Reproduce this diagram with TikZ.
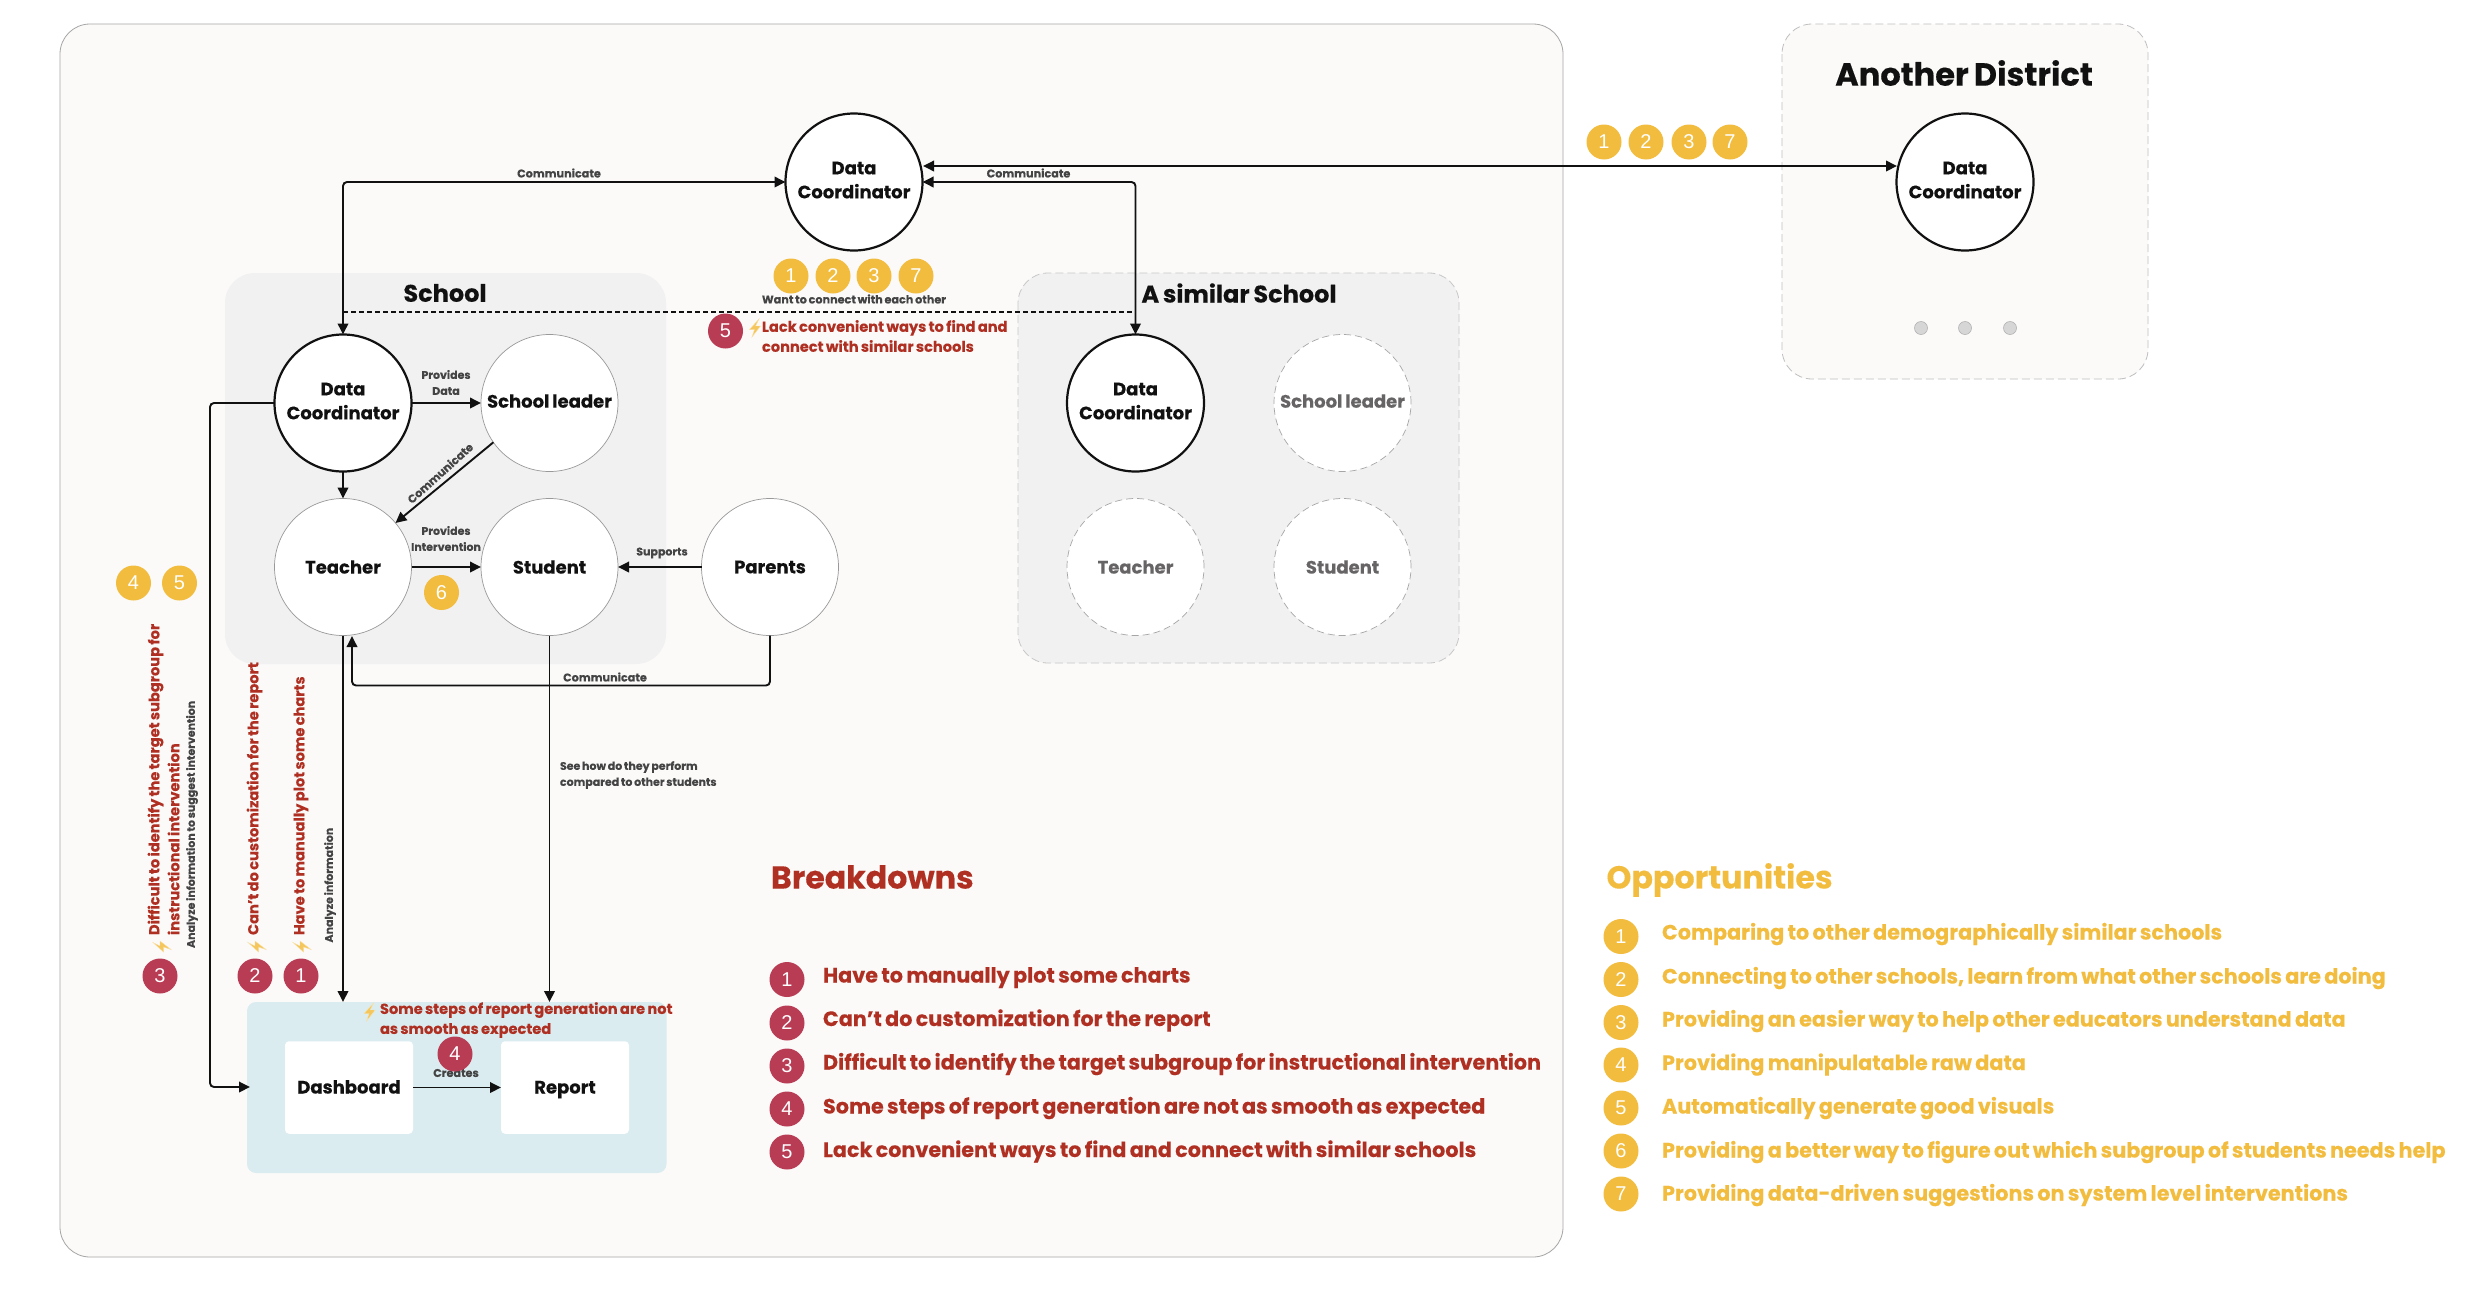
\documentclass[tikz,border=0pt]{standalone}
\usepackage{fontspec}
\setmainfont{Poppins}[WordSpace=0.75,BoldFeatures={FakeBold=0.2}]
\newfontfamily\digitfont{Liberation Sans}
\usetikzlibrary{arrows.meta}
\definecolor{goldc}{HTML}{F2BC3E}
\definecolor{badgered}{HTML}{B93C55}
\definecolor{textred}{HTML}{AF3022}
\definecolor{pagebg}{HTML}{FBFAF9}
\definecolor{panelbg}{HTML}{F1F1F2}
\definecolor{tealbg}{HTML}{DAECEF}
\definecolor{labelc}{HTML}{444444}
\definecolor{fadec}{HTML}{666464}
\definecolor{ink}{HTML}{111111}
\newcommand{\fs}[2]{\fontsize{#1}{#2}\selectfont}
\newcommand{\liftup}{\rule[-4pt]{0pt}{0pt}}
\tikzset{
  every node/.style={inner sep=0pt,outer sep=0pt},
  actor/.style={circle,minimum size=137pt,fill=white,draw=#1,align=center,font=\bfseries\fs{18}{24},text=ink},
  actor/.default={ink},
  mainactor/.style={actor=ink,line width=2.2pt},
  plainactor/.style={actor=black!40,line width=0.7pt},
  ghostactor/.style={actor=black!35,line width=0.7pt,dash pattern=on 7pt off 4pt,text=fadec},
  gbadge/.style={circle,minimum size=35pt,fill=goldc,text=white,font=\digitfont\fs{20}{20}},
  rbadge/.style={circle,minimum size=35pt,fill=badgered,text=white,font=\digitfont\fs{20}{20}},
  flow/.style={line width=1.9pt,draw=ink,rounded corners=4pt,-{Triangle[length=11pt,width=10.5pt]}},
  biflow/.style={line width=1.9pt,draw=ink,rounded corners=4pt,{Triangle[length=11pt,width=10.5pt]}-{Triangle[length=11pt,width=10.5pt]}},
  lab/.style={font=\bfseries\fs{11.2}{17},text=labelc,align=center},
  smalllab/.style={font=\bfseries\fs{11}{16},text=labelc,align=left},
  redlab/.style={font=\bfseries\fs{14.6}{20},text=textred,align=left},
  title/.style={font=\bfseries\fs{24}{30},text=ink},
  rowred/.style={font=\bfseries\fs{20.75}{24},text=textred,anchor=west,text height=15pt,text depth=5pt},
  rowgold/.style={font=\bfseries\fs{20.75}{24},text=goldc,anchor=west,text height=15pt,text depth=5pt},
  whitebox/.style={rectangle,fill=white,rounded corners=4pt,font=\bfseries\fs{18}{22},text=ink,minimum width=128pt,minimum height=92.5pt,text height=13pt,text depth=1pt},
  bolt/.pic={\fill[goldc!85!white,draw=goldc!45!white,line width=0.4pt] (4,-9) -- (-5.5,1.5) -- (-0.5,1.5) -- (-3,9) -- (5.5,-2) -- (0.5,-2) -- cycle;}
}
\begin{document}
\begin{tikzpicture}[x=1pt,y=-1pt]
\useasboundingbox (0,0) rectangle (2468,1288);
\fill[white] (0,0) rectangle (2468,1288);
% panels
\draw[fill=pagebg,draw=black!35,line width=0.8pt,rounded corners=30pt] (60,24) rectangle (1563,1257);
\draw[fill=pagebg,draw=black!25,line width=0.8pt,dash pattern=on 8pt off 4pt,rounded corners=30pt] (1782,24) rectangle (2148,379);
\fill[panelbg,rounded corners=30pt] (225,273) rectangle (666,664);
\draw[fill=panelbg,draw=black!22,line width=0.8pt,dash pattern=on 8pt off 4pt,rounded corners=30pt] (1018,273) rectangle (1459,663);
\fill[tealbg,rounded corners=9pt] (247,1002) rectangle (666.5,1173);
% titles
\node[title] (tSchool) at (445,293) {School};
\node[title] (tSimilar) at (1239,293) {A similar School};
\node[title,font=\bfseries\fs{32}{34}] (tAnother) at (1964,73) {Another District};
% actors
\node[mainactor] (dcTop) at (854,182) {Data\\Coordinator\liftup};
\node[mainactor] (dcAn) at (1965,182) {Data\\Coordinator\liftup};
\node[mainactor] (dcS) at (343,403) {Data\\Coordinator\liftup};
\node[plainactor] (slS) at (549.5,403) {School leader\liftup};
\node[plainactor] (teS) at (343,567) {Teacher};
\node[plainactor] (stS) at (549.5,567) {Student};
\node[plainactor] (paS) at (770,567) {Parents};
\node[mainactor] (dcSim) at (1135.5,403) {Data\\Coordinator\liftup};
\node[ghostactor] (slSim) at (1342.5,403) {School leader\liftup};
\node[ghostactor] (teSim) at (1135.5,567) {Teacher};
\node[ghostactor] (stSim) at (1342.5,567) {Student};
% dots
\node[circle,minimum size=13pt,fill=black!16,draw=black!30,line width=0.6pt] (dot1) at (1921,328) {};
\node[circle,minimum size=13pt,fill=black!16,draw=black!30,line width=0.6pt] (dot2) at (1965,328) {};
\node[circle,minimum size=13pt,fill=black!16,draw=black!30,line width=0.6pt] (dot3) at (2010,328) {};
% output boxes
\node[whitebox] (dash) at (349,1087.5) {Dashboard};
\node[whitebox] (rep) at (565,1087.5) {Report};
\coordinate (tealTop1) at (343,1002);
\coordinate (tealTop2) at (549.5,1002);
\coordinate (tealLeft) at (250,1087);
\coordinate (dcLeftV) at (210,403);
\coordinate (longA) at (923,166);
\coordinate (longB) at (1897,166);
\coordinate (dashA) at (343,312);
\coordinate (dashB) at (1135.5,312);
\coordinate (commBot) at (352,636);
% connectors
\draw[biflow] (dcS.north) |- (dcTop.west);
\draw[biflow] (dcSim.north) |- (dcTop.east);
\draw[biflow] (longA) -- (longB);
\draw[line width=2pt,draw=ink,dash pattern=on 5pt off 3pt] (dashA) -- (dashB);
\draw[flow] (dcS) -- (slS);
\draw[flow] (dcS) -- (teS);
\draw[flow] (slS.215) -- (teS.40);
\draw[flow] (teS) -- (stS);
\draw[flow] (paS) -- (stS);
\draw[flow] (paS.south) |- (352,685.5) -- (commBot);
\draw[flow] (dcS.west) -- (dcLeftV) |- (tealLeft);
\draw[flow] (teS.south) -- (tealTop1);
\draw[flow] (stS.south) -- (tealTop2);
\draw[flow] (dash) -- (rep);
% connector labels
\node[lab] (lC1) at (559,173) {Communicate};
\node[lab] (lC2) at (1028.5,173) {Communicate};
\node[lab] (lWant) at (854,299) {Want to connect with each other};
\node[smalllab,align=center] (lPD) at (446,382.5) {Provides\\Data};
\node[lab,rotate=42] (lC3) at (440,473) {Communicate};
\node[smalllab,align=center] (lPI) at (446,538.5) {Provides\\Intervention};
\node[smalllab] (lSup) at (662,553) {Supports};
\node[lab] (lC4) at (605,677) {Communicate};
\node[smalllab,anchor=west] (lSee) at (560,775) {See how do they perform\\compared to other students};
\node[smalllab,rotate=90,anchor=west] (lAn1) at (330,942.5) {Analyze information};
\node[smalllab,rotate=90,anchor=west] (lAn2) at (192,948) {Analyze information to suggest intervention};
\node[lab] (lCr) at (456,1073) {Creates};
% breakdown notes
\node[redlab,anchor=west] (nLack) at (762,336) {Lack convenient ways to find and\\connect with similar schools};
\node[redlab,anchor=west] (nSteps) at (380,1020) {Some steps of report generation are not\\as smooth as expected};
\node[redlab,rotate=90,anchor=west] (nPlot) at (301,935) {Have to manually plot some charts};
\node[redlab,rotate=90,anchor=west] (nCust) at (254.5,935) {Can't do customization for the report};
\node[redlab,rotate=90,anchor=west] (nDiff) at (163.6,935) {Difficult to identify the target subgroup for\\instructional intervention};
\pic at (755,328) {bolt};
\pic at (369.6,1012) {bolt};
\pic[rotate=90] at (302,946.5) {bolt};
\pic[rotate=90] at (257,946.5) {bolt};
\pic[rotate=90] at (162,946.5) {bolt};
% badges
\node[gbadge] (g1) at (791,276) {1};
\node[gbadge] (g2) at (833,276) {2};
\node[gbadge] (g3) at (874,276) {3};
\node[gbadge] (g7) at (916,276) {7};
\node[gbadge] (h1) at (1604,142) {1};
\node[gbadge] (h2) at (1646,142) {2};
\node[gbadge] (h3) at (1689,142) {3};
\node[gbadge] (h7) at (1730,142) {7};
\node[gbadge] (g4) at (133.5,583) {4};
\node[gbadge] (g5) at (179.5,583) {5};
\node[gbadge] (g6) at (441.5,592.5) {6};
\node[rbadge] (r5) at (725.5,331) {5};
\node[rbadge] (r1) at (301,976) {1};
\node[rbadge] (r2) at (255,976) {2};
\node[rbadge] (r3) at (160,976) {3};
\node[rbadge] (r4) at (455,1054) {4};
% Breakdowns list
\node[font=\bfseries\fs{31.6}{36},text=textred,anchor=west] (hBreak) at (771,877) {Breakdowns};
\node[rbadge] (b1) at (787,979.5) {1};
\node[rbadge] (b2) at (787,1023) {2};
\node[rbadge] (b3) at (787,1066) {3};
\node[rbadge] (b4) at (787,1109) {4};
\node[rbadge] (b5) at (787,1152) {5};
\node[rowred] (bt1) at (823,977.5) {Have to manually plot some charts};
\node[rowred] (bt2) at (823,1021) {Can't do customization for the report};
\node[rowred] (bt3) at (823,1064.5) {Difficult to identify the target subgroup for instructional intervention};
\node[rowred] (bt4) at (823,1108.5) {Some steps of report generation are not as smooth as expected};
\node[rowred] (bt5) at (823,1152) {Lack convenient ways to find and connect with similar schools};
% Opportunities list
\node[font=\bfseries\fs{31.7}{36},text=goldc,anchor=west] (hOpp) at (1606.5,880) {Opportunities};
\node[gbadge] (o1) at (1621,936.5) {1};
\node[gbadge] (o2) at (1621,979.5) {2};
\node[gbadge] (o3) at (1621,1022.5) {3};
\node[gbadge] (o4) at (1621,1065) {4};
\node[gbadge] (o5) at (1621,1108) {5};
\node[gbadge] (o6) at (1621,1151) {6};
\node[gbadge] (o7) at (1621,1194) {7};
\node[rowgold] (ot1) at (1662,934.5) {Comparing to other demographically similar schools};
\node[rowgold] (ot2) at (1662,978.5) {Connecting to other schools, learn from what other schools are doing};
\node[rowgold] (ot3) at (1662,1021.5) {Providing an easier way to help other educators understand data};
\node[rowgold] (ot4) at (1662,1065) {Providing manipulatable raw data};
\node[rowgold] (ot5) at (1662,1108.5) {Automatically generate good visuals};
\node[rowgold] (ot6) at (1662,1152.5) {Providing a better way to figure out which subgroup of students needs help};
\node[rowgold] (ot7) at (1662,1195.5) {Providing data-driven suggestions on system level interventions};
\end{tikzpicture}
\end{document}
